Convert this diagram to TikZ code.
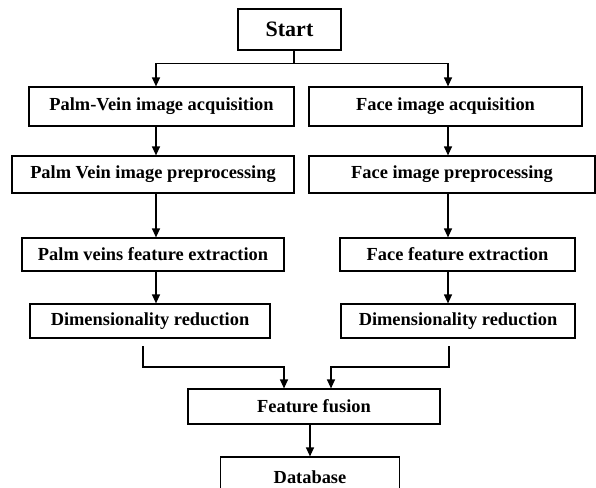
\documentclass[tikz,border=0pt]{standalone}
\usepackage{fontspec}
\setmainfont{Liberation Serif}
\usetikzlibrary{arrows.meta}
\tikzset{
  box/.style={draw, line width=1.2pt, inner sep=0pt,
    font=\bfseries\fontsize{18.4}{21}\selectfont},
  flow/.style={line width=1.2pt, -{Triangle[length=9pt,width=8pt]}}
}
\begin{document}
\begin{tikzpicture}[x=1pt,y=-1pt]
            \useasboundingbox (0,0) rectangle (596,487);
            \clip (0,0) rectangle (596,487);

            \node[box, minimum width=103, minimum height=41,
              font=\bfseries\fontsize{22}{26}\selectfont] (start) at (289.5,29.5) {Start};

            \node[box, minimum width=265, minimum height=39] (palmacq) at (161.5,106.5) {Palm-Vein image acquisition};
            \node[box, minimum width=273, minimum height=39] (faceacq) at (445.5,106.5) {Face image acquisition};

            \node[box, minimum width=282, minimum height=37] (palmpre) at (153,174.5) {Palm Vein image preprocessing};
            \node[box, minimum width=286, minimum height=37] (facepre) at (452,174.5) {Face image preprocessing};

            \node[box, minimum width=262, minimum height=33] (palmfeat) at (153,254.5) {Palm veins feature extraction};
            \node[box, minimum width=235, minimum height=33] (facefeat) at (457.5,254.5) {Face feature extraction};

            \node[box, minimum width=240, minimum height=34] (palmdim) at (150,321) {Dimensionality reduction};
            \node[box, minimum width=234, minimum height=34] (facedim) at (458,321) {Dimensionality reduction};

            \node[box, minimum width=252, minimum height=35] (fusion) at (314,406.5) {Feature fusion};
            \node[box, minimum width=179, minimum height=40] (database) at (310,477) {Database};

            % columns of the two branches
            \coordinate (lcol) at (156,0);
            \coordinate (rcol) at (448,0);
            \coordinate (ltail) at (143,346);
            \coordinate (rtail) at (449,346);

            \draw[line width=1.2pt] ([xshift=4.5pt]start.south) -- ++(0,13) coordinate (split);
            \draw[flow] (split) -| (palmacq.north -| lcol);
            \draw[flow] (split) -| (faceacq.north -| rcol);

            \draw[flow] (palmacq.south -| lcol) -- (palmpre.north -| lcol);
            \draw[flow] (faceacq.south -| rcol) -- (facepre.north -| rcol);
            \draw[flow] (palmpre.south -| lcol) -- (palmfeat.north -| lcol);
            \draw[flow] (facepre.south -| rcol) -- (facefeat.north -| rcol);
            \draw[flow] (palmfeat.south -| lcol) -- (palmdim.north -| lcol);
            \draw[flow] (facefeat.south -| rcol) -- (facedim.north -| rcol);

            \draw[flow] (ltail) -- ++(0,21) -| ([xshift=-30pt]fusion.north);
            \draw[flow] (rtail) -- ++(0,21) -| ([xshift=17pt]fusion.north);

            \draw[flow] (fusion.south -| database.north) -- (database.north);

        \end{tikzpicture}
\end{document}
